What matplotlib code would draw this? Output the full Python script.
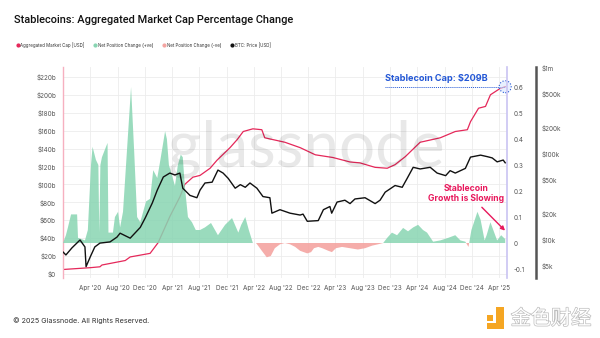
"""Stablecoin aggregated market cap vs. net position change and BTC price."""
import matplotlib
matplotlib.use("Agg")
import matplotlib.pyplot as plt
import matplotlib.dates as mdates
import matplotlib.patheffects as pe
from matplotlib.lines import Line2D
from matplotlib.patches import Rectangle
from matplotlib.ticker import FixedLocator, NullLocator
import numpy as np
import pandas as pd

plt.rcParams['font.family'] = ['Inter', 'DejaVu Sans']

# Aggregated stablecoin market cap, $b
mcap_dates = ["2019-12-01", "2020-03-31", "2020-05-14", "2020-05-23", "2020-09-04", "2020-09-26",
              "2020-12-24", "2021-01-29", "2021-03-22", "2021-05-06", "2021-05-28", "2021-07-03",
              "2021-08-04", "2021-09-18", "2021-10-19", "2021-12-16", "2022-01-17", "2022-02-13",
              "2022-03-28", "2022-05-07", "2022-05-20", "2022-08-18", "2022-10-25", "2023-01-01",
              "2023-03-20", "2023-06-05", "2023-07-19", "2023-09-25", "2023-11-18", "2023-12-23",
              "2024-02-07", "2024-04-13", "2024-07-12", "2024-09-17", "2024-11-10", "2024-11-24",
              "2024-12-30", "2025-01-30", "2025-02-21", "2025-04-05", "2025-04-28"]
mcap_b = [5, 7, 8, 10, 15, 19,
          23, 35, 64, 86, 100, 108,
          110, 118, 127, 141, 150, 159,
          162, 161, 152, 147, 141, 133,
          130, 125, 124, 119, 118, 122,
          131, 147, 152, 159, 161, 170,
          185, 187, 200, 207, 209]

# 30-day net position change (fraction)
chg_dates = ["2019-12-01", "2019-12-14", "2019-12-23", "2020-01-06", "2020-02-02", "2020-02-06",
             "2020-03-08", "2020-03-21", "2020-04-04", "2020-04-11", "2020-04-26", "2020-05-07",
             "2020-05-11", "2020-05-16", "2020-05-23", "2020-06-10", "2020-06-17", "2020-06-21",
             "2020-07-11", "2020-07-20", "2020-08-03", "2020-08-12", "2020-08-25", "2020-09-30",
             "2020-10-14", "2020-10-27", "2020-11-10", "2020-11-23", "2020-12-06", "2020-12-24",
             "2021-01-07", "2021-01-25", "2021-02-08", "2021-03-01", "2021-03-09", "2021-03-18",
             "2021-04-01", "2021-04-14", "2021-04-27", "2021-05-10", "2021-05-19", "2021-05-28",
             "2021-06-11", "2021-06-29", "2021-07-16", "2021-08-04", "2021-08-26", "2021-09-22",
             "2021-10-23", "2021-11-24", "2021-12-25", "2022-01-22", "2022-02-04", "2022-02-22",
             "2022-03-10", "2022-03-28", "2022-04-11", "2022-04-20", "2022-05-07", "2022-05-29",
             "2022-06-16", "2022-07-04", "2022-07-27", "2022-08-18", "2022-09-10", "2022-10-03",
             "2022-10-25", "2022-11-26", "2022-12-13", "2022-12-26", "2023-01-14", "2023-02-01",
             "2023-02-28", "2023-03-16", "2023-04-03", "2023-04-30", "2023-06-05", "2023-07-10",
             "2023-08-11", "2023-09-12", "2023-10-08", "2023-10-31", "2023-11-18", "2023-12-09",
             "2024-01-01", "2024-01-28", "2024-02-19", "2024-03-13", "2024-04-04", "2024-04-26",
             "2024-05-14", "2024-06-10", "2024-07-12", "2024-08-17", "2024-09-17", "2024-10-10",
             "2024-11-01", "2024-11-15", "2024-11-28", "2024-12-25", "2025-01-08", "2025-01-26",
             "2025-02-04", "2025-02-21", "2025-03-10", "2025-03-23", "2025-04-10", "2025-04-28"]
chg = [0.0, 0.03, 0.06, 0.11, 0.11, 0.02,
       0.01, 0.05, 0.30, 0.37, 0.32, 0.30,
       0.04, 0.30, 0.33, 0.37, 0.385, 0.04,
       0.04, 0.10, 0.12, 0.06, 0.12, 0.60,
       0.35, 0.10, 0.08, 0.12, 0.16, 0.17,
       0.28, 0.25, 0.32, 0.43, 0.40, 0.30,
       0.26, 0.22, 0.30, 0.34, 0.33, 0.22,
       0.10, 0.08, 0.05, 0.05, 0.06, 0.077,
       0.03, 0.07, 0.096, 0.04, 0.07, 0.10,
       0.05, 0.0, 0.0, -0.01, -0.03, -0.055,
       -0.05, -0.02, -0.005, 0.0, -0.005, -0.015,
       -0.03, -0.04, -0.035, -0.02, -0.015, -0.02,
       -0.03, -0.035, -0.02, -0.015, -0.02, -0.025,
       -0.02, -0.01, -0.005, 0.0, 0.02, 0.04,
       0.03, 0.058, 0.045, 0.06, 0.07, 0.05,
       0.04, 0.005, 0.01, 0.02, 0.03, 0.01,
       0.005, -0.015, 0.05, 0.12, 0.09, 0.01,
       0.03, 0.08, 0.04, 0.01, 0.03, 0.015]

# BTC price, $k
btc_dates = ["2019-12-01", "2019-12-14", "2020-01-10", "2020-02-15", "2020-03-08", "2020-03-13",
             "2020-03-31", "2020-04-21", "2020-05-14", "2020-06-28", "2020-07-29", "2020-08-12",
             "2020-09-26", "2020-11-10", "2020-12-02", "2021-01-03", "2021-01-25", "2021-02-21",
             "2021-03-22", "2021-04-14", "2021-05-06", "2021-05-19", "2021-06-20", "2021-07-21",
             "2021-08-04", "2021-08-26", "2021-09-27", "2021-10-23", "2021-11-15", "2021-12-08",
             "2022-01-08", "2022-01-31", "2022-02-22", "2022-03-15", "2022-04-15", "2022-05-12",
             "2022-06-12", "2022-06-21", "2022-07-27", "2022-09-10", "2022-10-25", "2022-11-07",
             "2022-11-26", "2023-01-14", "2023-02-06", "2023-03-07", "2023-03-15", "2023-04-08",
             "2023-05-13", "2023-06-05", "2023-06-27", "2023-08-11", "2023-09-25", "2023-10-17",
             "2023-11-09", "2023-12-23", "2024-01-24", "2024-02-15", "2024-03-13", "2024-04-13",
             "2024-05-28", "2024-06-28", "2024-08-05", "2024-08-25", "2024-09-17", "2024-11-01",
             "2024-11-24", "2025-01-08", "2025-02-08", "2025-03-01", "2025-03-23", "2025-04-19",
             "2025-04-28"]
btc_k = [7.25, 6.7, 8.1, 10, 8.3, 4.9,
         6.3, 8.3, 9.2, 9.5, 10.8, 12,
         10.5, 14, 18, 27, 38, 54,
         60, 57, 60, 40, 33, 31,
         38, 46, 47, 65, 60, 52,
         40, 44, 41, 46, 40, 32,
         31, 20.5, 22.5, 20.5, 19.5, 20,
         16.5, 16.8, 22.5, 24.5, 20.5, 27.6,
         29, 26.5, 30, 31, 26.5, 29,
         36, 43, 41, 52, 70, 67,
         70, 60, 56, 64, 60, 68,
         92, 97, 93, 90, 81, 85,
         79]

x_ticks = pd.date_range("2020-04-01", "2025-04-01", freq="4MS")
left_ticks = list(range(0, 221, 20))
left_labels = ["$0"] + [f"${v}b" for v in left_ticks[1:]]
pct_ticks = [-0.1, 0, 0.1, 0.2, 0.3, 0.4, 0.5, 0.6]
pct_labels = ["-0.1", "0", "0.1", "0.2", "0.3", "0.4", "0.5", "0.6"]
btc_ticks = [5e3, 1e4, 2e4, 5e4, 1e5, 2e5, 5e5, 1e6]
btc_labels = ["$5k", "$10k", "$20k", "$50k", "$100k", "$200k", "$500k", "$1m"]

PINK = '#e5285a'
GREEN = '#88d5b2'
RED = '#f4a4a1'
BLUE = '#2458d6'
MAGENTA = '#e8185c'
TICK = '#555555'

mcap_x = pd.to_datetime(mcap_dates)
chg_x = pd.to_datetime(chg_dates)
btc_x = pd.to_datetime(btc_dates)
chg_arr = np.array(chg)

fig = plt.figure(figsize=(6, 3.38), dpi=100)
ax = fig.add_axes([63 / 600, 1 - 278 / 338, 444 / 600, 211 / 338])
ax2 = ax.twinx()
ax3 = ax.twinx()

# left axis: market cap
ax.plot(mcap_x, mcap_b, color=PINK, lw=0.9, zorder=2)
ax.set_ylim(-4.5, 231)
ax.set_yticks(left_ticks)
ax.set_yticklabels(left_labels)
ax.set_xlim(pd.Timestamp("2019-12-01"), pd.Timestamp("2025-05-06"))
ax.set_xticks(x_ticks)
ax.xaxis.set_major_formatter(mdates.DateFormatter("%b '%y"))
ax.grid(True, color='#ececec', lw=0.6)
ax.set_axisbelow(True)
for s in ['top', 'right', 'bottom']:
    ax.spines[s].set_visible(False)
ax.spines['left'].set_color('#f6b0c0')
ax.spines['left'].set_linewidth(1.0)
ax.tick_params(axis='both', length=0, labelsize=4.6, colors=TICK)
ax.tick_params(axis='y', pad=5)
ax.tick_params(axis='x', pad=5)

# right axis: net position change
ax2.fill_between(chg_x, 0, chg_arr, where=chg_arr >= 0, interpolate=True,
                 color=GREEN, alpha=0.85, lw=0)
ax2.fill_between(chg_x, 0, chg_arr, where=chg_arr <= 0, interpolate=True,
                 color=RED, alpha=0.9, lw=0)
ax2.set_ylim(-0.1346, 0.677)
ax2.set_yticks(pct_ticks)
ax2.set_yticklabels(pct_labels)
for s in ['top', 'left', 'bottom']:
    ax2.spines[s].set_visible(False)
ax2.spines['right'].set_color('#c9c4f2')
ax2.spines['right'].set_linewidth(1.2)
ax2.tick_params(axis='y', length=0, labelsize=4.6, colors=TICK, pad=5)

# outer axis: BTC price (log)
ax3.plot(btc_x, np.array(btc_k) * 1000, color='#111111', lw=1.0)
ax3.set_yscale('log')
ax3.set_ylim(3614, 1.027e6)
ax3.yaxis.set_major_locator(FixedLocator(btc_ticks))
ax3.yaxis.set_minor_locator(NullLocator())
ax3.set_yticklabels(btc_labels)
for s in ['top', 'left', 'bottom']:
    ax3.spines[s].set_visible(False)
ax3.spines['right'].set_position(('axes', 1.065))
ax3.spines['right'].set_color('#555555')
ax3.spines['right'].set_linewidth(1.8)
ax3.tick_params(axis='y', which='both', length=0, labelsize=4.6, colors=TICK, pad=4)

# current cap callout
end_x = mcap_x[-1]
end_v = mcap_b[-1]
ax.hlines(end_v, pd.Timestamp("2023-11-09"), end_x, colors=BLUE, linestyles=(0, (1, 1)),
          lw=0.7, zorder=4)
ax.scatter([end_x], [end_v], s=75, facecolor=(0.85, 0.9, 1.0, 0.6), edgecolor=BLUE,
           linestyle=':', linewidth=0.8, zorder=5, clip_on=False)
ax.annotate(f"Stablecoin Cap: ${end_v}B", (pd.Timestamp("2023-11-09"), end_v),
            xytext=(0, 2.5), textcoords='offset points', ha='left', va='bottom',
            fontsize=6.6, fontweight='bold', color=BLUE, zorder=6)

# slowing growth callout
ax2.annotate("", xy=(pd.Timestamp("2025-05-06"), 0.04), xytext=(pd.Timestamp("2025-01-05"), 0.145),
             arrowprops=dict(arrowstyle='-|>', color=MAGENTA, lw=1.0, mutation_scale=6),
             annotation_clip=False)
ax2.text(pd.Timestamp("2024-11-05"), 0.19, "Stablecoin\nGrowth is Slowing", ha='center',
         va='center', fontsize=6.2, fontweight='bold', color=MAGENTA, linespacing=1.15)

# watermark
fig.text(0.51, 0.56, "glassnode", ha='center', va='center', fontsize=46, color='black',
         alpha=0.09, family='Lato')

# title, legend, footer
fig.text(14 / 600, 1 - 20 / 338, "Stablecoins: Aggregated Market Cap Percentage Change",
         fontsize=7.9, fontweight='medium', color='#111111', va='center', family='Roboto')
handles = [
    Line2D([], [], ls='', marker='o', ms=2.0, color=PINK, label='Aggregated Market Cap [USD]'),
    Line2D([], [], ls='', marker='o', ms=2.0, color=GREEN, label='Net Position Change (+ve)'),
    Line2D([], [], ls='', marker='o', ms=2.0, color=RED, label='Net Position Change (-ve)'),
    Line2D([], [], ls='', marker='o', ms=2.0, color='#111111', label='BTC: Price [USD]'),
]
fig.legend(handles=handles, loc='center left', bbox_to_anchor=(12 / 600, 1 - 45 / 338),
           ncol=4, frameon=False, fontsize=3.2, handletextpad=0.2, columnspacing=2.0,
           handlelength=0.8, labelcolor='#333333')
fig.text(13 / 600, 1 - 321 / 338, "© 2025 Glassnode. All Rights Reserved.",
         fontsize=5.2, color='#333333', va='center')

# 金色财经 mark
fig.add_artist(Rectangle((487 / 600, 1 - 321 / 338), 6 / 600, 6 / 338,
                         transform=fig.transFigure, color='#f5a623', lw=0))
fig.add_artist(Rectangle((496 / 600, 1 - 329 / 338), 8 / 600, 22 / 338,
                         transform=fig.transFigure, color='#f5a623', lw=0))
fig.add_artist(Rectangle((487 / 600, 1 - 329 / 338), 17 / 600, 6 / 338,
                         transform=fig.transFigure, color='#f5a623', lw=0))
fig.text(551 / 600, 1 - 319 / 338, "金色财经", ha='center', va='center', fontsize=14.5,
         color='white', family=['Noto Sans CJK SC', 'DejaVu Sans'],
         path_effects=[pe.withStroke(linewidth=1.0, foreground='#bdbdbd')])

fig.savefig("out.png", dpi=100)
